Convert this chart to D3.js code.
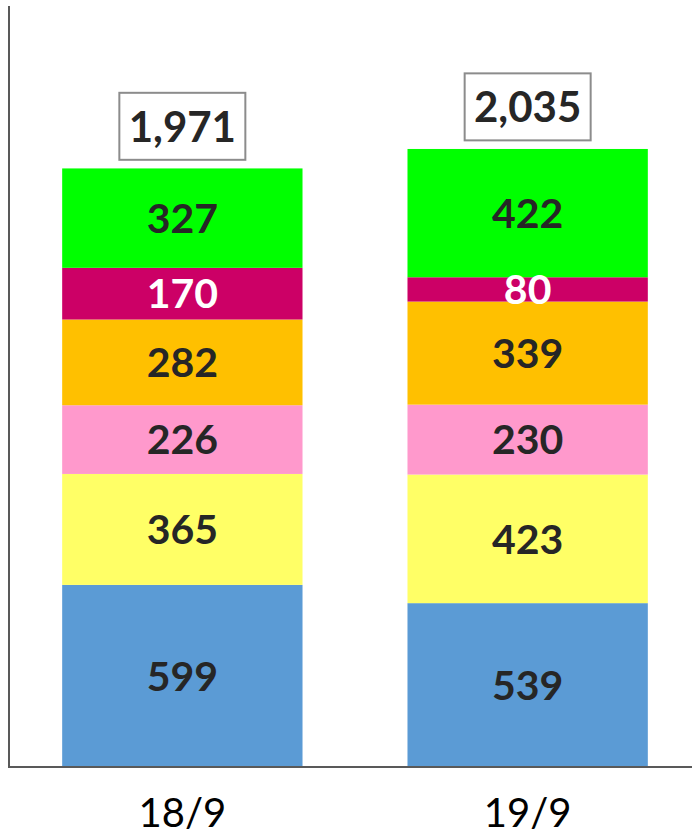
<!DOCTYPE html>
<html>
<head>
<meta charset="utf-8">
<script src="https://cdn.jsdelivr.net/npm/d3@7"></script>
<style>
  body { margin: 0; background: #fff; }
  svg { display: block; font-family: Lato, "Open Sans", sans-serif; }
</style>
</head>
<body>
<div id="chart"></div>
<script>
// categories and stacked series (bottom to top)
var categories = ["18/9", "19/9"];
var seriesNames = ["s1", "s2", "s3", "s4", "s5", "s6"];
var s1 = [599, 539];
var s2 = [365, 423];
var s3 = [226, 230];
var s4 = [282, 339];
var s5 = [170, 80];
var s6 = [327, 422];
var totals = [1971, 2035];

var colors = ["#5b9bd5", "#ffff66", "#ff99cc", "#ffc000", "#cc0066", "#00ff00"];
var labelColors = ["#262626", "#262626", "#262626", "#262626", "#ffffff", "#262626"];

var width = 692, height = 837;

var svg = d3.select("#chart").append("svg")
    .attr("width", width)
    .attr("height", height);

// build rows for d3.stack
var allSeries = [s1, s2, s3, s4, s5, s6];
var rows = categories.map(function(c, i) {
    var r = {cat: c};
    seriesNames.forEach(function(k, j) { r[k] = allSeries[j][i]; });
    return r;
});
var stacked = d3.stack().keys(seriesNames)(rows);

var x = d3.scaleBand().domain(categories).range([9, 701])
    .paddingInner(0.304).paddingOuter(0.154);
var y = d3.scaleLinear().domain([0, 2500]).range([767, 7]);

// bars
var layer = svg.append("g").selectAll("g")
    .data(stacked)
    .enter().append("g")
    .attr("fill", function(d, i) { return colors[i]; });

layer.selectAll("rect")
    .data(function(d) { return d; })
    .enter().append("rect")
    .attr("x", function(d) { return x(d.data.cat); })
    .attr("y", function(d) { return y(d[1]); })
    .attr("width", x.bandwidth())
    .attr("height", function(d) { return y(d[0]) - y(d[1]); });

// segment labels
stacked.forEach(function(s, i) {
    svg.append("g").selectAll("text")
        .data(s)
        .enter().append("text")
        .attr("x", function(d) { return x(d.data.cat) + x.bandwidth() / 2; })
        .attr("y", function(d) { return (y(d[0]) + y(d[1])) / 2; })
        .attr("dy", "0.36em")
        .attr("text-anchor", "middle")
        .attr("font-size", 41)
        .attr("font-weight", "bold")
        .attr("fill", labelColors[i])
        .text(function(d) { return d[1] - d[0]; });
});

// total boxes
var fmt = d3.format(",");
var tot = svg.append("g").selectAll("g")
    .data(categories)
    .enter().append("g");

tot.append("rect")
    .attr("x", function(d) { return x(d) + x.bandwidth() / 2 - 63; })
    .attr("y", function(d, i) { return y(totals[i]) - 75; })
    .attr("width", 126)
    .attr("height", 67)
    .attr("fill", "#fff")
    .attr("stroke", "#8c8c8c")
    .attr("stroke-width", 2);

tot.append("text")
    .attr("x", function(d) { return x(d) + x.bandwidth() / 2; })
    .attr("y", function(d, i) { return y(totals[i]) - 41; })
    .attr("dy", "0.36em")
    .attr("text-anchor", "middle")
    .attr("font-size", 42)
    .attr("font-weight", "bold")
    .attr("fill", "#262626")
    .text(function(d, i) { return fmt(totals[i]); });

// axes
svg.append("line")
    .attr("x1", 9).attr("x2", 9)
    .attr("y1", 6).attr("y2", 767)
    .attr("stroke", "#595959").attr("stroke-width", 2);
svg.append("line")
    .attr("x1", 8).attr("x2", 692)
    .attr("y1", 767).attr("y2", 767)
    .attr("stroke", "#595959").attr("stroke-width", 2);

// category labels
svg.append("g").selectAll("text")
    .data(categories)
    .enter().append("text")
    .attr("x", function(d) { return x(d) + x.bandwidth() / 2; })
    .attr("y", 827)
    .attr("text-anchor", "middle")
    .attr("font-size", 40)
    .attr("fill", "#000")
    .text(function(d) { return d; });
</script>
</body>
</html>
